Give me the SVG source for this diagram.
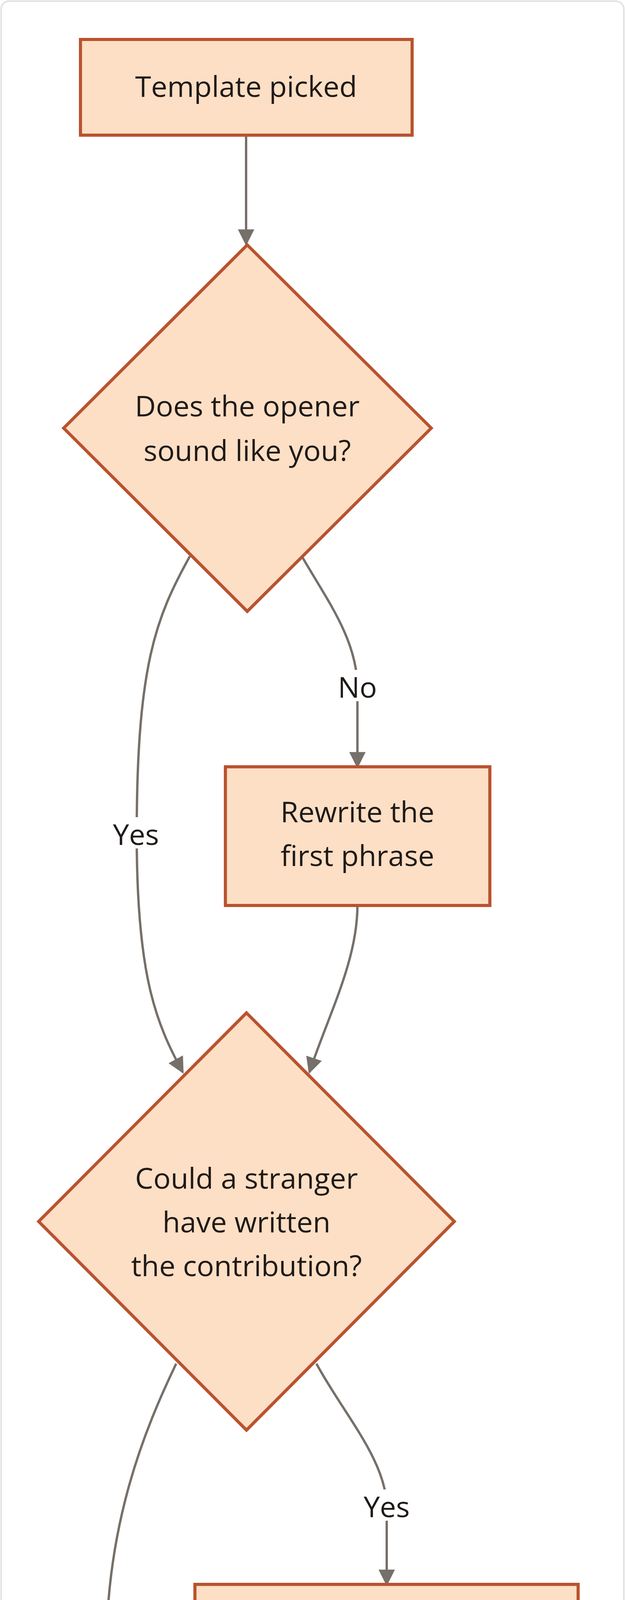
<svg xmlns="http://www.w3.org/2000/svg" width="1600" height="6874" viewBox="0 0 1600 6874">
<style>
.n{fill:#fddfc5;stroke:#b9532f;stroke-width:8}
.t{font-family:"Open Sans","Noto Sans",sans-serif;font-size:74px;fill:#1f1a17;text-anchor:middle}
.e{fill:none;stroke:#76706a;stroke-width:6}
.lb{fill:#ffffff}
</style>
<defs>
<marker id="a" viewBox="0 0 10 10" refX="9" refY="5" markerWidth="7" markerHeight="7" markerUnits="strokeWidth" orient="auto"><path d="M0,0L10,5L0,10z" fill="#76706a"/></marker>
</defs>
<rect x="0" y="0" width="1600" height="6874" fill="#ffffff"/>
<rect x="3" y="3" width="1594" height="6868" rx="20" fill="#ffffff" stroke="#e2e2e2" stroke-width="4"/>
<g id="edges">
<path class="e" marker-end="url(#a)" d="M630,346 L630,625"/>
<path class="e" marker-end="url(#a)" d="M775,1428 C840,1540 915,1640 915,1761 L915,1963"/>
<path class="e" marker-end="url(#a)" d="M486,1424 C400,1580 350,1700 350,2138 C350,2500 400,2620 468,2745"/>
<path class="e" marker-end="url(#a)" d="M915,2318 C915,2460 840,2600 792,2745"/>
<path class="e" marker-end="url(#a)" d="M810,3491 C880,3620 990,3740 990,3859 L990,4056"/>
<path class="e" marker-end="url(#a)" d="M451,3491 C370,3660 272,3900 272,4235 C272,4550 380,4700 470,4836"/>
<path class="e" marker-end="url(#a)" d="M990,4406 C990,4560 860,4700 795,4836"/>
<path class="e" marker-end="url(#a)" d="M793,5410 C870,5540 994,5640 994,5755 L994,5957"/>
<path class="e" marker-end="url(#a)" d="M464,5410 C370,5580 267,5760 267,6080 C267,6330 330,6400 440,6482"/>
<path class="e" marker-end="url(#a)" d="M994,6202 C994,6340 870,6400 805,6482"/>
<rect class="lb" x="855" y="1715" width="120" height="80"/><text class="t" x="915" y="1786">No</text>
<rect class="lb" x="278" y="2092" width="140" height="80"/><text class="t" x="348" y="2163">Yes</text>
<rect class="lb" x="920" y="3813" width="140" height="80"/><text class="t" x="990" y="3884">Yes</text>
<rect class="lb" x="212" y="4189" width="120" height="80"/><text class="t" x="272" y="4260">No</text>
<rect class="lb" x="934" y="5709" width="120" height="80"/><text class="t" x="994" y="5780">No</text>
<rect class="lb" x="197" y="6034" width="140" height="80"/><text class="t" x="267" y="6105">Yes</text>
</g>
<g id="n1"><rect class="n" x="206" y="101" width="849" height="245"/><text class="t" x="630" y="248">Template picked</text></g>
<g id="n2"><polygon class="n" points="633,627 1104,1096 633,1565 163,1096"/><text class="t" x="633" y="1066">Does the opener</text><text class="t" x="633" y="1180">sound like you?</text></g>
<g id="n3"><rect class="n" x="577" y="1963" width="677" height="355"/><text class="t" x="915" y="2105">Rewrite the</text><text class="t" x="915" y="2217">first phrase</text></g>
<g id="n4"><polygon class="n" points="631,2593 1163,3127 631,3661 99,3127"/><text class="t" x="631" y="3043">Could a stranger</text><text class="t" x="631" y="3155">have written</text><text class="t" x="631" y="3267">the contribution?</text></g>
<g id="n5"><rect class="n" x="499" y="4056" width="981" height="350"/><text class="t" x="990" y="4200">Scrap it — add your</text><text class="t" x="990" y="4310">number or example</text></g>
<g id="n6"><polygon class="n" points="631,4691 1065,5125 631,5559 197,5125"/><text class="t" x="631" y="5095">Did you delete</text><text class="t" x="631" y="5207">one sentence?</text></g>
<g id="n7"><rect class="n" x="495" y="5957" width="1003" height="245"/><text class="t" x="996" y="6104">Cut the wrap-up line</text></g>
<g id="n8"><rect class="n" x="381" y="6482" width="499" height="246"/><text class="t" x="630" y="6629">Ship it</text></g>
<g id="wm"><rect x="1378" y="6792" width="188" height="48" rx="24" fill="#8c8c8c"/><text x="1472" y="6825" font-family="'Open Sans',sans-serif" font-size="26" fill="#ffffff" text-anchor="middle">reachmore.co</text></g>
</svg>
